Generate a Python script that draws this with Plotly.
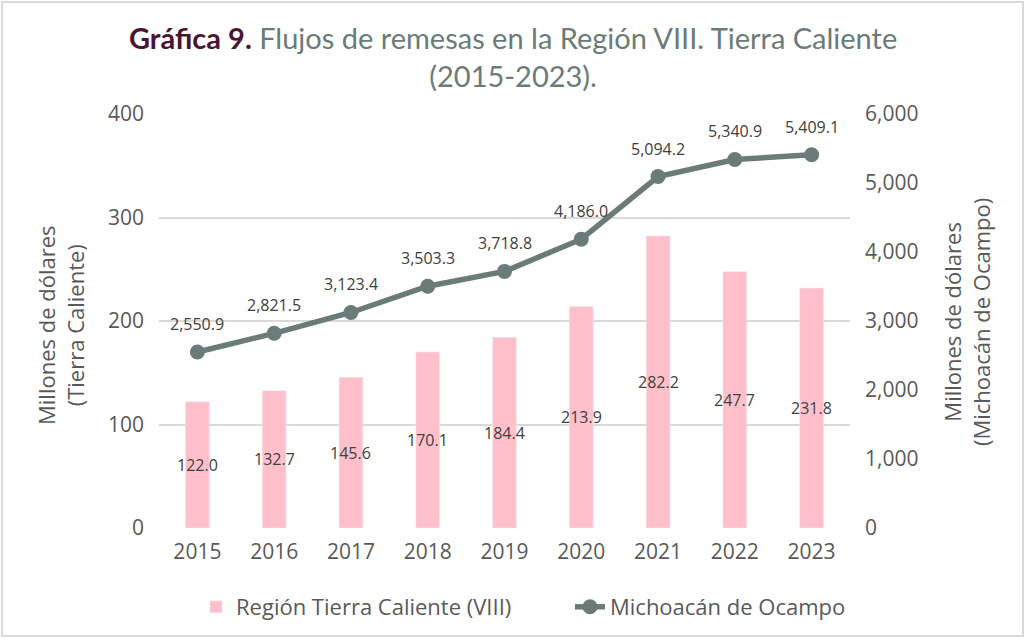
import plotly.graph_objects as go

years = ["2015", "2016", "2017", "2018", "2019", "2020", "2021", "2022", "2023"]
region_vals = [122.0, 132.7, 145.6, 170.1, 184.4, 213.9, 282.2, 247.7, 231.8]
mich_vals = [2550.9, 2821.5, 3123.4, 3503.3, 3718.8, 4186.0, 5094.2, 5340.9, 5409.1]

W, H = 1026, 639
ml, mr, mt, mb = 159, 176, 114, 111
pw, ph = W - ml - mr, H - mt - mb

def px2paper_x(px):
    return (px - ml) / pw

def px2paper_y(py):
    return (H - mb - py) / ph

LBL_FONT = "Open Sans, Noto Sans, sans-serif"
GRAY = "#595959"
TEAL = "#6b7b78"

fig = go.Figure()
fig.add_trace(go.Bar(
    x=years, y=region_vals, name="Región Tierra Caliente (VIII)",
    marker=dict(color="#ffc0cb"), width=0.31,
    hoverinfo="x+y", yaxis="y", legend="legend",
))
fig.add_trace(go.Scatter(
    x=years, y=mich_vals, name="Michoacán de Ocampo",
    mode="lines+markers",
    line=dict(color=TEAL, width=5.5),
    marker=dict(color=TEAL, size=15),
    yaxis="y2", legend="legend2",
))

annotations = []
for i, v in enumerate(region_vals):
    annotations.append(dict(x=i, y=v / 2, xref="x", yref="y", text=f"{v:.1f}",
                            showarrow=False, font=dict(family=LBL_FONT, size=16, color="#404040")))
for i, v in enumerate(mich_vals):
    annotations.append(dict(x=i, y=v, xref="x", yref="y2", text=f"{v:,.1f}",
                            showarrow=False, yshift=28,
                            font=dict(family=LBL_FONT, size=16, color="#404040")))
annotations.append(dict(
    x=0.5 * (px2paper_x(0) + px2paper_x(W)), y=px2paper_y(18), xref="paper", yref="paper",
    xanchor="center", yanchor="top", showarrow=False, align="center",
    text="<b><span style='color:#4a1530'>Gráfica 9.</span></b> Flujos de remesas en la Región VIII. Tierra Caliente<br>(2015-2023).",
    font=dict(family="Lato, Open Sans, sans-serif", size=29, color=TEAL),
))
annotations.append(dict(
    x=px2paper_x(60), y=px2paper_y(325), xref="paper", yref="paper",
    xanchor="center", yanchor="middle", showarrow=False, textangle=-90,
    text="Millones de dólares<br>(Tierra Caliente)",
    font=dict(family=LBL_FONT, size=22, color=GRAY),
))
annotations.append(dict(
    x=px2paper_x(966), y=px2paper_y(322), xref="paper", yref="paper",
    xanchor="center", yanchor="middle", showarrow=False, textangle=-90,
    text="Millones de dólares<br>(Michoacán de Ocampo)",
    font=dict(family=LBL_FONT, size=22, color=GRAY),
))

x0, x1 = px2paper_x(2), px2paper_x(1023)
y0, y1 = px2paper_y(636), px2paper_y(2)

legend_common = dict(orientation="h", xanchor="left", y=px2paper_y(586), yanchor="top",
                     font=dict(size=22, color=GRAY, family=LBL_FONT), bgcolor="rgba(0,0,0,0)")

fig.update_layout(
    width=W, height=H,
    margin=dict(l=ml, r=mr, t=mt, b=mb, autoexpand=False),
    paper_bgcolor="white", plot_bgcolor="white",
    font=dict(family=LBL_FONT, color=GRAY),
    showlegend=True,
    xaxis=dict(
        type="category", range=[-0.5, len(years) - 0.5], tickfont=dict(size=21, color=GRAY),
        showline=False, showgrid=False, ticks="", automargin=False,
        ticklabelstandoff=9,
    ),
    yaxis=dict(
        range=[0, 400], dtick=100, tickfont=dict(size=21, color=GRAY),
        gridcolor="#d9d9d9", gridwidth=2, zeroline=False, automargin=False,
        ticklabelstandoff=14,
    ),
    yaxis2=dict(
        range=[0, 6000], dtick=1000, overlaying="y", side="right",
        tickformat=",", tickfont=dict(size=21, color=GRAY),
        showgrid=False, zeroline=False, automargin=False,
        ticklabelstandoff=14,
    ),
    legend=dict(x=px2paper_x(196), **legend_common),
    legend2=dict(x=px2paper_x(570), **legend_common),
    bargap=0.5,
    annotations=annotations,
    shapes=[dict(type="rect", xref="paper", yref="paper", x0=x0, x1=x1, y0=y0, y1=y1,
                 line=dict(color="#d9d9d9", width=2), layer="below")],
)

fig.write_html("out.html", config={"displayModeBar": False},
               post_script="document.body.style.margin='0';")
